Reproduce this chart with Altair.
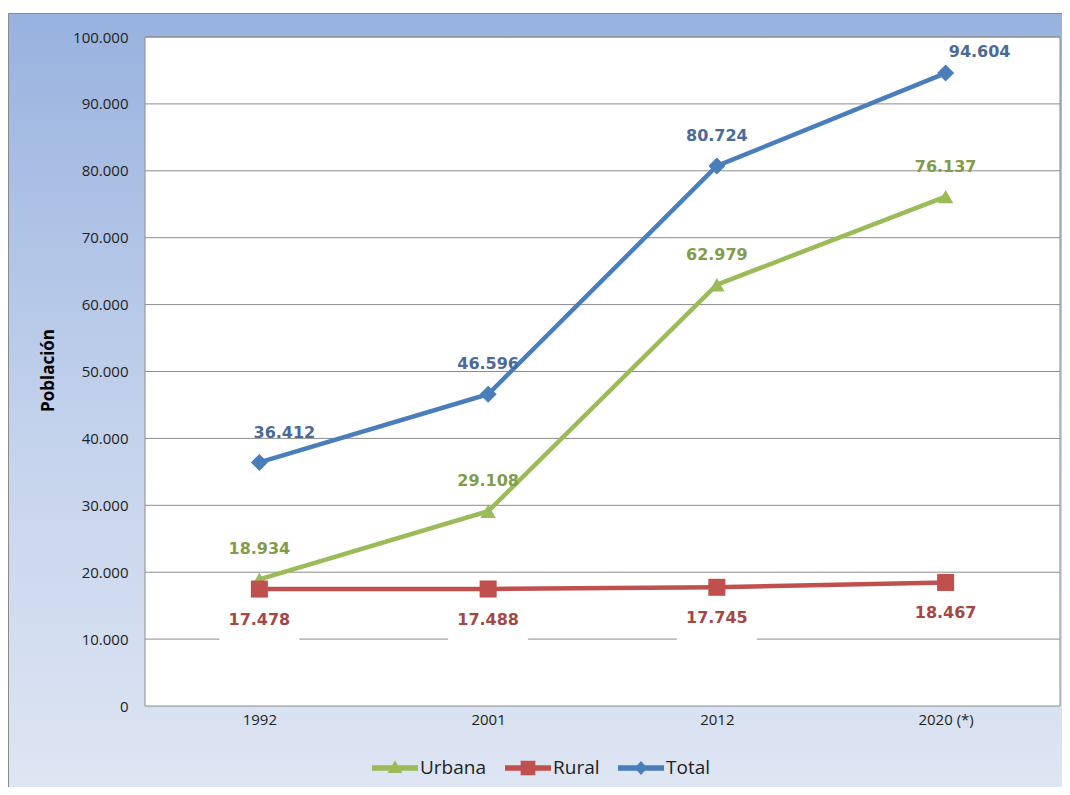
import altair as alt
import pandas as pd

# ---- data ----
years = ["1992", "2001", "2012", "2020 (*)"]
series = ["Urbana", "Rural", "Total"]
urbana = [18934, 29108, 62979, 76137]
rural = [17478, 17488, 17745, 18467]
total = [36412, 46596, 80724, 94604]
y_ticks = [0, 10000, 20000, 30000, 40000, 50000, 60000, 70000, 80000, 90000, 100000]

line_colors = ["#9BBB59", "#C0504D", "#4A7EBB"]
label_colors = {"Urbana": "#829b4c", "Rural": "#a44846", "Total": "#4b6a99"}

rows = []
for s, vals in zip(series, [urbana, rural, total]):
    for yr, v in zip(years, vals):
        rows.append({"year": yr, "serie": s, "value": v,
                     "label": f"{v:,}".replace(",", ".")})
df = pd.DataFrame(rows)

W, H = 915, 669

xscale = alt.Scale(type="point", domain=years, padding=0.5)
yscale = alt.Scale(domain=[0, 100000], nice=False, zero=True)
color_scale = alt.Scale(domain=series, range=line_colors)
col = dict(zip(series, line_colors))

xaxis = alt.Axis(title=None, labelFont="Open Sans", labelFontSize=15, labelColor="#222222",
                 labelAngle=0, domain=False, ticks=False, tickSize=0, labelPadding=6,
                 grid=False, zindex=1)
yaxis = alt.Axis(title="Población", values=y_ticks,
                 labelExpr="replace(format(datum.value, ','), ',', '.')",
                 labelFont="Open Sans", labelFontSize=15, labelColor="#222222",
                 domain=False, ticks=False, tickSize=0, labelPadding=17, grid=False,
                 titleX=-97, titleY=333, titleAngle=-90, titleAlign="center",
                 titleBaseline="middle", titleFont="Open Sans", titleFontSize=17,
                 titleFontWeight="bold", titleColor="#000000", zindex=1)

X = alt.X("year:N", scale=xscale, axis=xaxis)
Y = alt.Y("value:Q", scale=yscale, axis=yaxis)

one = pd.DataFrame({"k": [0]})

grad = alt.LinearGradient(
    gradient="linear",
    stops=[alt.GradientStop(color="#98b2df", offset=0),
           alt.GradientStop(color="#c3d2ec", offset=0.5),
           alt.GradientStop(color="#e2e8f4", offset=1)],
    x1=0, x2=0, y1=0, y2=1)

bg = alt.Chart(one).mark_rect(fill=grad, stroke="#8a8a8a", strokeWidth=1).encode(
    x=alt.value(-136.5), x2=alt.value(960), y=alt.value(-23.5), y2=alt.value(800))

plot_rect = alt.Chart(one).mark_rect(fill="white", stroke="#8c8c8c", strokeWidth=1).encode(
    x=alt.value(0), x2=alt.value(W), y=alt.value(0), y2=alt.value(H))

grid = alt.Chart(pd.DataFrame({"value": y_ticks[1:]})).mark_rule(
    color="#8c8c8c", strokeWidth=1).encode(y=Y)

boxes = alt.Chart(df).transform_filter(alt.datum.serie == "Rural").mark_point(
    shape="M-1,-0.5L1,-0.5L1,0.5L-1,0.5Z", size=6400, filled=True, color="white",
    opacity=1, yOffset=33).encode(x=X, y=Y)

shapes = {"Urbana": ("triangle-up", 240), "Rural": ("square", 290), "Total": ("diamond", 290)}
line_layers = []
point_layers = []
for s in series:
    shp, sz = shapes[s]
    base = alt.Chart(df).transform_filter(alt.datum.serie == s)
    line_layers.append(base.mark_line(strokeWidth=4.5, color=col[s]).encode(x=X, y=Y))
    point_layers.append(base.mark_point(shape=shp, size=sz, filled=True, opacity=1,
                                        color=col[s]).encode(x=X, y=Y))

label_style = dict(font="DejaVu Sans", fontWeight="bold", fontSize=16, baseline="middle")
text_layers = [
    alt.Chart(df).transform_filter(alt.datum.serie == "Urbana").mark_text(
        dy=-30, color=label_colors["Urbana"], **label_style).encode(x=X, y=Y, text="label:N"),
    alt.Chart(df).transform_filter(alt.datum.serie == "Rural").mark_text(
        dy=31, color=label_colors["Rural"], **label_style).encode(x=X, y=Y, text="label:N"),
    alt.Chart(df).transform_filter(
        (alt.datum.serie == "Total") & (alt.datum.year != "1992") & (alt.datum.year != "2020 (*)")
    ).mark_text(dy=-30, color=label_colors["Total"], **label_style).encode(x=X, y=Y, text="label:N"),
    alt.Chart(df).transform_filter(
        (alt.datum.serie == "Total") & (alt.datum.year == "1992")
    ).mark_text(dy=-29, dx=25, color=label_colors["Total"], **label_style).encode(x=X, y=Y, text="label:N"),
    alt.Chart(df).transform_filter(
        (alt.datum.serie == "Total") & (alt.datum.year == "2020 (*)")
    ).mark_text(dy=-21, dx=34, color=label_colors["Total"], **label_style).encode(x=X, y=Y, text="label:N"),
]

legend_paths = [
    "M-1,-0.12L1,-0.12L1,0.12L-1,0.12Z M0,-0.34L0.32,0.22L-0.32,0.22Z",
    "M-1,-0.12L1,-0.12L1,0.12L-1,0.12Z M-0.32,-0.32L0.32,-0.32L0.32,0.32L-0.32,0.32Z",
    "M-1,-0.12L1,-0.12L1,0.12L-1,0.12Z M0,-0.3L0.28,0L0,0.3L-0.28,0Z",
]
leg = alt.Legend(title=None, orient="none", legendX=227, legendY=708, direction="horizontal",
                 symbolSize=2116, symbolStrokeWidth=0, symbolOpacity=1,
                 labelFont="Open Sans", labelFontSize=19, labelColor="#222222",
                 labelOffset=2, columnPadding=18, padding=0)
legend_layer = alt.Chart(df).mark_point(filled=True, opacity=0, size=1).encode(
    x=X, y=Y,
    color=alt.Color("serie:N", scale=color_scale, legend=leg),
    shape=alt.Shape("serie:N", scale=alt.Scale(domain=series, range=legend_paths), legend=leg))

chart = alt.layer(bg, plot_rect, grid, boxes, *line_layers, *point_layers, *text_layers,
                  legend_layer).properties(
    width=W, height=H,
    autosize=alt.AutoSizeParams(type="none"),
    padding={"left": 137, "top": 29, "right": 2, "bottom": 81},
).configure_view(stroke=None).configure(background="white")

chart.save("out.html", embed_options={"renderer": "svg", "actions": False})
